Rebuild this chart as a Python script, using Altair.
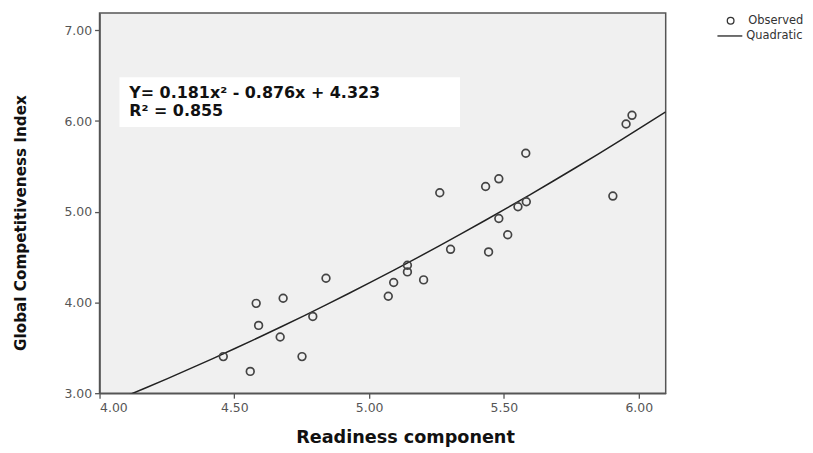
import altair as alt
import pandas as pd

readiness = [4.459, 4.559, 4.581, 4.590, 4.670, 4.681, 4.751, 4.791, 4.840,
             5.071, 5.091, 5.142, 5.142, 5.202, 5.302, 5.443, 5.514, 5.262,
             5.432, 5.481, 5.581, 5.552, 5.583, 5.481, 5.953, 5.975, 5.904]
gci = [3.403, 3.240, 3.990, 3.747, 3.619, 4.047, 3.403, 3.846, 4.267,
       4.069, 4.220, 4.410, 4.337, 4.249, 4.586, 4.557, 4.747, 5.209,
       5.278, 5.363, 5.645, 5.055, 5.110, 4.926, 5.967, 6.063, 5.173]
series_labels = ["Observed", "Quadratic"]
x_ticks = [4.0, 4.5, 5.0, 5.5, 6.0]
y_ticks = [3.0, 4.0, 5.0, 6.0, 7.0]
eq_lines = ["Y= 0.181x\u00b2  - 0.876x + 4.323", "R\u00b2 = 0.855"]

FONT = "DejaVu Sans"

df = pd.DataFrame({"readiness": readiness, "gci": gci})
df["series"] = series_labels[0]

xscale = alt.Scale(domain=[4.0, 6.1], nice=False, zero=False)
yscale = alt.Scale(domain=[3.0, 7.19], nice=False, zero=False)

xenc = alt.X("readiness:Q", scale=xscale,
             axis=alt.Axis(values=x_ticks, format=".2f", title="Readiness component",
                           grid=False, titlePadding=15, titleFontSize=17.7,
                           titleX=307, titleAlign="center"))
yenc = alt.Y("gci:Q", scale=yscale,
             axis=alt.Axis(values=y_ticks, format=".2f", title="Global Competitiveness Index",
                           grid=False, titlePadding=36, titleFontSize=15.3,
                           titleY=210.5, titleAlign="center"))

common_legend = dict(
    title=None, orient="none", padding=0,
    labelFont=FONT, labelFontSize=11.5, labelColor="#333",
)

points = alt.Chart(df).mark_point(
    filled=False, size=60, strokeWidth=1.7, opacity=1, color="#444444"
).encode(
    x=xenc, y=yenc,
    shape=alt.Shape("series:N", scale=alt.Scale(domain=[series_labels[0]], range=["circle"]),
                    legend=alt.Legend(legendX=628.5, legendY=2, symbolSize=45,
                                      symbolStrokeWidth=1.3, symbolStrokeColor="#333",
                                      symbolFillColor="transparent", labelOffset=12,
                                      **common_legend)),
)

fit = alt.Chart(df).transform_regression(
    "readiness", "gci", method="poly", order=2, extent=[4.0, 6.1]
).transform_calculate(series="'Quadratic'").mark_line(
    clip=True, strokeWidth=1.5
).encode(
    x=alt.X("readiness:Q", scale=xscale), y=alt.Y("gci:Q", scale=yscale),
    color=alt.Color("series:N", scale=alt.Scale(domain=[series_labels[1]], range=["#222222"]),
                    legend=alt.Legend(legendX=620, legendY=9.5, symbolType="stroke",
                                      symbolSize=625, symbolStrokeWidth=1.3, labelOffset=3,
                                      **common_legend)),
)

box_df = pd.DataFrame({"x": [4.074], "x2": [5.337], "y": [6.484], "y2": [5.934]})
box = alt.Chart(box_df).mark_rect(color="white").encode(
    x=alt.X("x:Q", scale=xscale), x2="x2:Q",
    y=alt.Y("y:Q", scale=yscale), y2="y2:Q")

eq_df = pd.DataFrame({"x": [4.11, 4.11], "y": [6.31, 6.11], "t": eq_lines})
eq = alt.Chart(eq_df).mark_text(
    align="left", baseline="middle", font=FONT, fontSize=16, fontWeight="bold", color="#111"
).encode(x=alt.X("x:Q", scale=xscale), y=alt.Y("y:Q", scale=yscale), text="t:N")

chart = alt.layer(box, eq, fit, points).properties(
    width=569, height=382,
    autosize=alt.AutoSizeParams(type="none"),
    padding={"left": 92, "top": 4, "right": 140, "bottom": 58},
    background="white",
).configure_view(
    fill="#f0f0f0", stroke="#555555", strokeWidth=1.5
).configure_axis(
    labelFont=FONT, labelFontSize=12.5, labelColor="#555", labelPadding=3,
    tickColor="#555", tickSize=5, tickWidth=1.3,
    domainColor="#555", domainWidth=1.5,
    titleFont=FONT, titleFontWeight="bold", titleColor="#111",
)

chart.save("out.html", embed_options={"renderer": "svg", "actions": False})
